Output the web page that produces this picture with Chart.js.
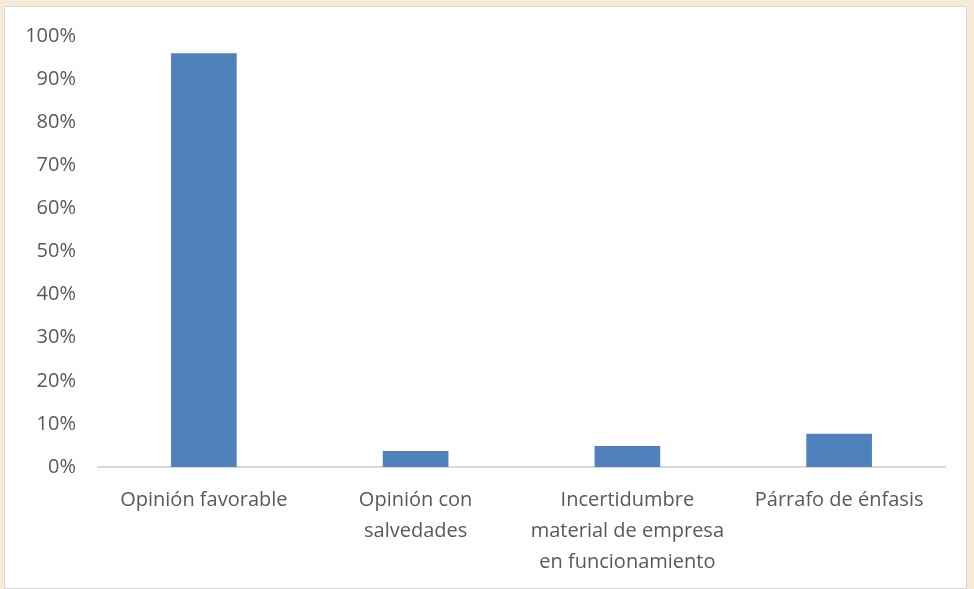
<!DOCTYPE html>
<html>
<head>
<meta charset="utf-8">
<script src="https://cdn.jsdelivr.net/npm/chart.js@4"></script>
<style>
  body { margin: 0; background: #f5ebd7; }
  #frame { position: absolute; left: 4px; top: 6px; width: 961px; height: 581px; background: #ffffff; border: 1px solid #d6d6d6; }
  #wrap { position: absolute; left: 0; top: 0; width: 974px; height: 589px; }
</style>
</head>
<body>
<div id="frame"></div>
<div id="wrap"><canvas id="chart"></canvas></div>
<script>
const categories = [
    "Opinión favorable",
    ["Opinión con", "salvedades"],
    ["Incertidumbre", "material de empresa", "en funcionamiento"],
    "Párrafo de énfasis"
];
const values = [96, 3.7, 4.9, 7.7];
const yTicks = [0, 10, 20, 30, 40, 50, 60, 70, 80, 90, 100];

const textColor = "#595959";
const font = { family: "'Open Sans', sans-serif", size: 20 };

const data = {
    labels: categories,
    datasets: [
        {
            data: values,
            backgroundColor: "#4f81bd",
            barPercentage: 0.31,
            categoryPercentage: 1
        }
    ]
};

const config = {
    type: "bar",
    data: data,
    options: {
        responsive: true,
        maintainAspectRatio: false,
        animation: false,
        layout: { padding: { top: 36, right: 29, bottom: 0, left: 0 } },
        plugins: {
            legend: { display: false },
            tooltip: { enabled: false }
        },
        scales: {
            x: {
                grid: { display: false },
                border: { display: true, color: "#d9d9d9", width: 2 },
                ticks: {
                    color: textColor,
                    font: { family: font.family, size: font.size, lineHeight: 1.55 },
                    padding: 10,
                    autoSkip: false,
                    maxRotation: 0
                },
                afterFit: function(scale) { scale.height = 122; }
            },
            y: {
                min: 0,
                max: 100,
                grid: { display: false },
                border: { display: false },
                afterBuildTicks: function(scale) {
                    scale.ticks = yTicks.map(function(v) { return { value: v }; });
                },
                ticks: {
                    color: textColor,
                    font: font,
                    padding: 14,
                    callback: function(v) { return v + "%"; }
                },
                afterFit: function(scale) { scale.width = 98; }
            }
        }
    }
};

new Chart(document.getElementById("chart"), config);
</script>
</body>
</html>
